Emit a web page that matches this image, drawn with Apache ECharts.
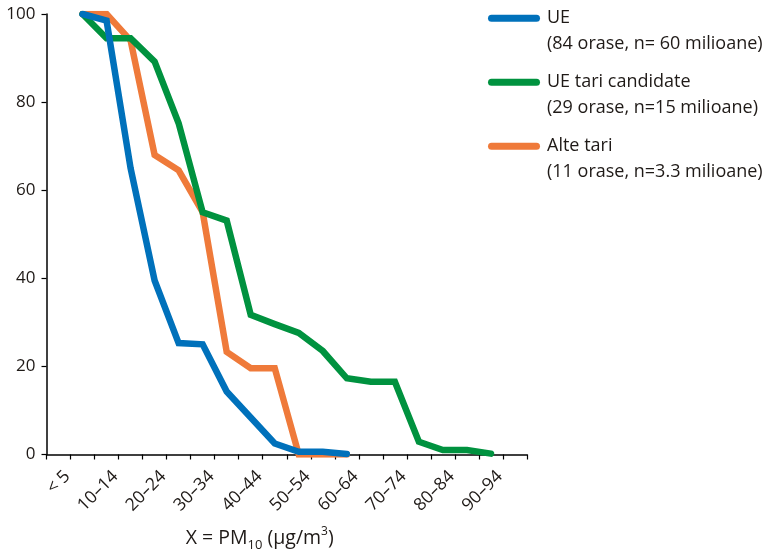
<!DOCTYPE html>
<html>
<head>
<meta charset="utf-8">
<script src="https://cdn.jsdelivr.net/npm/echarts@6/dist/echarts.min.js"></script>
<style>
html,body{margin:0;padding:0;background:#fff;}
#chart{width:768px;height:549px;}
</style>
</head>
<body>
<div id="chart"></div>
<script>
const categories = ['< 5','5–9','10–14','15–19','20–24','25–29','30–34','35–39','40–44','45–49','50–54','55–59','60–64','65–69','70–74','75–79','80–84','85–89','90–94','95–99'];
const seriesNames = ['UE', 'UE tari candidate', 'Alte tari'];
const seriesSubtitles = ['(84 orase, n= 60 milioane)', '(29 orase, n=15 milioane)', '(11 orase, n=3.3 milioane)'];
const ueValues = ['-', 100, 98.5, 65, 39.5, 25.3, 25, 14.3, 8.4, 2.5, 0.6, 0.6, 0.1];
const candidateValues = ['-', 100, 94.5, 94.5, 89.2, 75.2, 55, 53.1, 31.7, 29.6, 27.6, 23.5, 17.3, 16.5, 16.5, 2.9, 1.0, 1.0, 0.2];
const otherValues = ['-', 100, 100, 94, 68, 64.5, 55, 23.3, 19.6, 19.6, 0, 0, 0];
const yTickValues = [0, 20, 40, 60, 80, 100];
const xAxisTitle = '{t|X = PM}{s|10}{t| (µg/m}{p|3}{t|)}';

const FONT = '"Open Sans", sans-serif';
const TXT = '#1f1a17';
const colors = ['#0071bb', '#00923f', '#ef7a3a'];

const chart = echarts.init(document.getElementById('chart'), null, {renderer: 'canvas'});

function mkLine(name, data, color, z) {
  return {
    name: name, type: 'line', data: data, z: z,
    showSymbol: false, symbol: 'none', connectNulls: false,
    lineStyle: {color: color, width: 6.5, cap: 'round', join: 'miter'},
    itemStyle: {color: color},
    emphasis: {disabled: true},
    animation: false
  };
}

const subMap = {};
seriesNames.forEach((n, i) => subMap[n] = seriesSubtitles[i]);

chart.setOption({
  backgroundColor: '#ffffff',
  animation: false,
  textStyle: {fontFamily: FONT, color: TXT},
  grid: {left: 46.5, right: 241, top: 14, bottom: 94.5, containLabel: false, outerBoundsMode: 'none'},
  legend: {
    orient: 'vertical',
    left: 483, top: -25,
    itemWidth: 52, itemHeight: 7,
    itemGap: -12.5,
    icon: 'path://M3.5,0 H48.5 A3.5,3.5 0 0 1 48.5,7 H3.5 A3.5,3.5 0 0 1 3.5,0 Z',
    data: seriesNames,
    formatter: function (name) { return '\n' + name + '\n' + subMap[name]; },
    textStyle: {fontFamily: FONT, fontSize: 18, lineHeight: 25.5, color: TXT, padding: [0, 0, 0, 2]},
    selectedMode: false
  },
  xAxis: {
    type: 'category',
    data: categories,
    boundaryGap: true,
    name: xAxisTitle,
    nameLocation: 'middle',
    nameGap: 71,
    nameTextStyle: {
      padding: [0, 54, 0, 0],
      rich: {
        t: {fontFamily: FONT, fontSize: 19.5, color: TXT, lineHeight: 26, verticalAlign: 'middle'},
        s: {fontFamily: FONT, fontSize: 13, color: TXT, lineHeight: 14, verticalAlign: 'bottom'},
        p: {fontFamily: FONT, fontSize: 12, color: TXT, lineHeight: 14, verticalAlign: 'top'}
      }
    },
    axisLine: {show: true, lineStyle: {color: '#000', width: 1.5}},
    axisTick: {show: true, interval: 0, alignWithLabel: false, length: 5, inside: false, lineStyle: {color: '#000', width: 1.2}},
    axisLabel: {interval: 1, rotate: 45, margin: 28, align: 'right', verticalAlign: 'middle', padding: [0, -12.4, 0, 0], fontFamily: FONT, fontSize: 17.5, color: TXT},
    splitLine: {show: false}
  },
  yAxis: {
    type: 'value',
    min: yTickValues[0], max: yTickValues[yTickValues.length - 1], interval: yTickValues[1] - yTickValues[0],
    axisLine: {show: true, lineStyle: {color: '#000', width: 1.5}},
    axisTick: {show: true, length: 5, inside: false, lineStyle: {color: '#000', width: 1.2}},
    axisLabel: {margin: 11, fontFamily: FONT, fontSize: 17, color: TXT},
    splitLine: {show: false}
  },
  series: [
    mkLine(seriesNames[2], otherValues, colors[2], 2),
    mkLine(seriesNames[1], candidateValues, colors[1], 3),
    mkLine(seriesNames[0], ueValues, colors[0], 4)
  ]
});
</script>
</body>
</html>
